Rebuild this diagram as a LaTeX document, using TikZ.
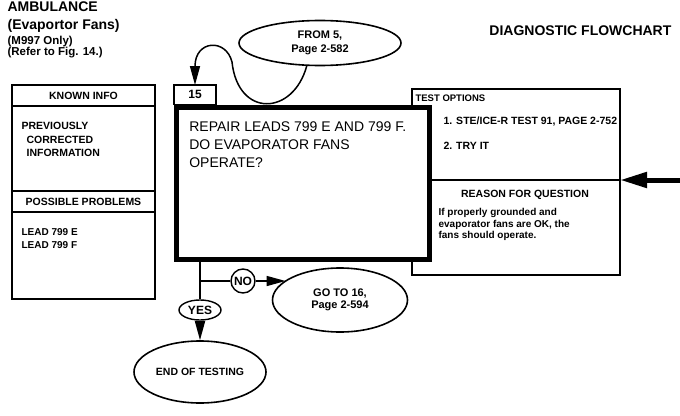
\documentclass[tikz,border=0pt]{standalone}
\usepackage{fontspec}
\setmainfont{Liberation Sans}
\usetikzlibrary{positioning,arrows.meta,shapes.geometric,calc}
\tikzset{
	>={Triangle[length=19pt,width=10pt]}
}

\begin{document}
\begin{tikzpicture}[
x = 1pt,
y = -1pt,
node distance = 0pt,
line width = 1.2pt,
every node/.style = {
	inner sep = 0pt,
	font = \bfseries\fontsize{10.5}{12}\selectfont
},
heading/.style = {
	anchor = base west,
	font = \bfseries\fontsize{14}{15}\selectfont
},
subheading/.style = {
	anchor = base west,
	font = \bfseries\fontsize{11.5}{12}\selectfont
},
panel/.style = {
	draw,
	rectangle,
	outer sep = 0pt,
	minimum width = 143pt
},
bubble/.style = {
	draw,
	ellipse,
	line width = 1.6pt,
	fill = white,
	align = center,
	font = \bfseries\fontsize{10.5}{12}\selectfont
},
answer/.style = {
	draw,
	line width = 1.4pt,
	font = \bfseries\fontsize{12}{14}\selectfont
},
link/.style = {
	line width = 1.5pt
}
]

\useasboundingbox (0,0) rectangle (680,415);

\node (title_a) [heading] at (7,12) {AMBULANCE};
\node (title_b) [heading] at (7,29.5) {(Evaportor Fans)};
\node (title_c) [subheading] at (7,44.5) {(M997 Only)};
\node (title_d) [subheading] at (7,55.5) {(Refer to Fig. 14.)};
\node (chart_t) [heading, anchor = base east] at (672,35) {DIAGNOSTIC FLOWCHART};

\node (known_h) [panel, minimum height = 21pt, anchor = north west] at (12,85) {KNOWN INFO};
\node (known_b) [panel, minimum height = 85pt, below = of known_h] {};
\node (known_t) [below right = 16pt and 9pt of known_b.north west, align = left, font = \bfseries\fontsize{10.5}{13.5}\selectfont] {PREVIOUSLY\\\hspace*{5pt}CORRECTED\\\hspace*{5pt}INFORMATION};
\node (problems_h) [panel, minimum height = 21pt, below = of known_b] {POSSIBLE PROBLEMS};
\node (problems_b) [panel, minimum height = 87pt, below = of problems_h] {};
\node (problems_t) [below right = 16pt and 9pt of problems_b.north west, align = left, font = \bfseries\fontsize{10}{12.5}\selectfont] {LEAD 799 E\\LEAD 799 F};

\node (options_b) [panel, minimum width = 208pt, minimum height = 91pt, anchor = north west] at (412,89) {};
\node (reason_b) [panel, minimum width = 208pt, minimum height = 95pt, below = of options_b] {};
\node (options_t) [below right = 5pt and 3pt of options_b.north west, font = \bfseries\fontsize{9.5}{11}\selectfont] {TEST OPTIONS};
\node (options_l) [below right = 27.5pt and 31pt of options_b.north west, align = left, font = \bfseries\fontsize{10.5}{25}\selectfont] {1. STE/ICE-R TEST 91, PAGE 2-752\\2. TRY IT};
\node (reason_h) [below = 9.5pt of reason_b.north, xshift = 9pt] {REASON FOR QUESTION};
\node (reason_t) [below right = 28pt and 26pt of reason_b.north west, align = left, font = \bfseries\fontsize{10}{11.5}\selectfont] {If properly grounded and\\evaporator fans are OK, the\\fans should operate.};

\node (question) [draw, line width = 5pt, fill = white, outer sep = 0pt, minimum width = 252.5pt, minimum height = 151.5pt, anchor = north west] at (176.75,107.75) {};
\node (question_t) [below right = 13pt and 12pt of question.north west, align = left, font = \fontsize{14}{18}\selectfont] {REPAIR LEADS 799 E AND 799 F.\\DO EVAPORATOR FANS\\OPERATE?};
\node (step_no) [panel, minimum width = 42pt, minimum height = 19.5pt, anchor = south west, font = \bfseries\fontsize{12}{14}\selectfont] at (174,104.5) {15};

\node (source) [bubble, minimum width = 162pt, minimum height = 45pt, font = \bfseries\fontsize{11}{14}\selectfont] at (320,43) {FROM 5,\\Page 2-582};
\draw [link, ->] (source.240) .. controls (293,116) and (238,118) .. (232,62) .. controls (226,38) and (195,40) .. (step_no.north);

\node (yes) [answer, ellipse, minimum width = 42pt, minimum height = 20pt] at (200,310) {YES};
\node (no) [answer, circle, minimum size = 24pt] at (243,281) {NO};
\node (goto) [bubble, minimum width = 135pt, minimum height = 64pt, font = \bfseries\fontsize{11}{12}\selectfont] at (340,300) {GO TO 16,\\Page 2-594};
\node (finish) [bubble, minimum width = 132pt, minimum height = 62pt] at (200,372) {END OF TESTING};

\coordinate (split) at (yes.north |- no.west);
\draw [link] (question.south -| yes.north) -- (yes.north);
\draw [link] (split) -- (no.west);
\draw [link, ->] (no.east) -- (no.east -| goto.160);
\draw [link, ->] (yes.south) -- (finish.north);

\coordinate (feed) at (680,180);
\draw [line width = 5pt, -{Triangle[length=27pt,width=15pt]}] (feed) -- (options_b.south east);

\end{tikzpicture}
\end{document}
